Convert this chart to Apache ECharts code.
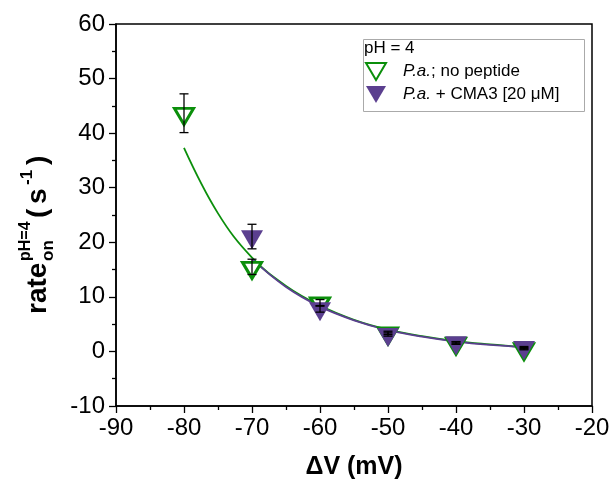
<!DOCTYPE html>
<html>
<head>
<meta charset="utf-8">
<script src="https://cdn.jsdelivr.net/npm/echarts@6.0.0/dist/echarts.min.js"></script>
<style>
  html, body { margin: 0; padding: 0; background: #fff; }
  #chart { width: 611px; height: 483px; }
</style>
</head>
<body>
<div id="chart"></div>
<script>
// measured points (mV, s^-1)
const voltNoPep = [-80, -70, -60, -50, -40, -30]
const rateNoPep = [43.6, 15.4, 8.9, 3.4, 1.5, 0.5]
const errLowNoPep = [40.1, 14.1, 8.3, 3.1, 1.3, 0.3]
const errHighNoPep = [47.2, 16.9, 9.5, 3.7, 1.7, 0.7]

const voltCma3 = [-70, -60, -50, -40, -30]
const rateCma3 = [21.0, 7.8, 3.1, 1.6, 0.7]
const errLowCma3 = [18.8, 7.2, 2.8, 1.4, 0.5]
const errHighCma3 = [23.3, 8.4, 3.4, 1.8, 0.9]

// fitted curves, every 5 mV
const fitVoltNoPep = [-80, -75, -70, -65, -60, -55, -50, -45, -40, -35, -30]
const fitNoPep = [37.3, 25.3, 17.2, 12.0, 8.4, 5.8, 4.0, 2.8, 1.9, 1.3, 0.8]
const fitVoltCma3 = [-70, -65, -60, -55, -50, -45, -40, -35, -30]
const fitCma3 = [16.9, 11.8, 8.2, 5.7, 3.9, 2.7, 1.8, 1.2, 0.8]

const xTicks = [-90, -20, 10]   // min, max, step
const yTicks = [-10, 60, 10]

const GREEN = '#0b8f0b'
const PURPLE = '#5b3f8f'
const FONT = 'Arial, "Liberation Sans", sans-serif'
const TRI = 'path://M0,0L20,0L10,17Z'

const zip = (a, b) => a.map((v, i) => [v, b[i]])
const zip3 = (a, b, c) => a.map((v, i) => [v, b[i], c[i]])

const errorBar = (params, api) => {
  const x = api.value(0)
  const lo = api.coord([x, api.value(1)])
  const hi = api.coord([x, api.value(2)])
  const w = 4.5
  const st = { stroke: '#000', lineWidth: 1.3 }
  return {
    type: 'group',
    children: [
      { type: 'line', shape: { x1: lo[0], y1: lo[1], x2: hi[0], y2: hi[1] }, style: st },
      { type: 'line', shape: { x1: lo[0] - w, y1: lo[1], x2: lo[0] + w, y2: lo[1] }, style: st },
      { type: 'line', shape: { x1: hi[0] - w, y1: hi[1], x2: hi[0] + w, y2: hi[1] }, style: st },
    ],
  }
}

const chart = echarts.init(document.getElementById('chart'))

const titleText = (text, lx, ly, size) => ({
  type: 'text',
  x: lx,
  y: ly,
  style: {
    text: text,
    font: 'bold ' + size + 'px ' + FONT,
    fill: '#000',
    textAlign: 'left',
    textVerticalAlign: 'middle',
  },
})

const option = {
  animation: false,
  backgroundColor: '#fff',
  grid: {
    left: 116,
    right: 19,
    top: 24,
    bottom: 77,
    outerBoundsMode: 'none',
    show: true,
    borderColor: '#000',
    borderWidth: 1.5,
  },
  xAxis: {
    type: 'value',
    min: xTicks[0],
    max: xTicks[1],
    interval: xTicks[2],
    name: 'ΔV (mV)',
    nameLocation: 'middle',
    nameGap: 49,
    nameTextStyle: { fontFamily: FONT, fontWeight: 'bold', fontSize: 25, color: '#000' },
    axisLine: { onZero: false, lineStyle: { color: '#000', width: 1.5 } },
    axisTick: { length: 7, lineStyle: { color: '#000', width: 1.3 } },
    minorTick: { show: true, splitNumber: 2, length: 4, lineStyle: { color: '#000', width: 1.3 } },
    splitLine: { show: false },
    axisLabel: { fontFamily: FONT, fontSize: 24, color: '#000', margin: 10 },
  },
  yAxis: {
    type: 'value',
    min: yTicks[0],
    max: yTicks[1],
    interval: yTicks[2],
    axisLine: { onZero: false, lineStyle: { color: '#000', width: 1.5 } },
    axisTick: { length: 7, lineStyle: { color: '#000', width: 1.3 } },
    minorTick: { show: true, splitNumber: 2, length: 4, lineStyle: { color: '#000', width: 1.3 } },
    splitLine: { show: false },
    axisLabel: { fontFamily: FONT, fontSize: 24, color: '#000', margin: 11 },
  },
  legend: {
    left: 365,
    top: 62,
    orient: 'vertical',
    itemWidth: 20,
    itemHeight: 17,
    itemGap: 5,
    padding: 0,
    data: [
      { name: 'no peptide', icon: TRI },
      { name: 'CMA3', icon: TRI },
    ],
    formatter: (name) => name === 'no peptide'
      ? '{i|P.a.}; no peptide'
      : '{i|P.a.} + CMA3 [20 μM]',
    textStyle: {
      fontFamily: FONT,
      fontSize: 17,
      color: '#000',
      padding: [0, 0, 0, 12],
      rich: { i: { fontFamily: FONT, fontSize: 17, fontStyle: 'italic', color: '#000' } },
    },
  },
  graphic: [
    {
      type: 'rect',
      left: 361,
      top: 37,
      shape: { width: 221, height: 72 },
      style: { fill: 'none', stroke: '#aaa', lineWidth: 1 },
    },
    {
      type: 'text',
      left: 364,
      top: 40,
      style: { text: 'pH = 4', font: '17px ' + FONT, fill: '#000' },
    },
    {
      type: 'group',
      x: 38,
      y: 314,
      rotation: Math.PI / 2,
      children: [
        titleText('rate', 0, 0, 28),
        titleText('pH=4', 53, -12, 16),
        titleText('on', 53, 10, 17),
        titleText('(', 96, 0, 28),
        titleText('s', 110, 0, 28),
        titleText('-1', 129, -11, 17),
        titleText(')', 149, 0, 28),
      ],
    },
  ],
  series: [
    {
      name: 'fit no peptide',
      type: 'line',
      data: zip(fitVoltNoPep, fitNoPep),
      smooth: 0.4,
      showSymbol: false,
      lineStyle: { color: GREEN, width: 1.8 },
      z: 2,
    },
    {
      name: 'fit CMA3',
      type: 'line',
      data: zip(fitVoltCma3, fitCma3),
      smooth: 0.4,
      showSymbol: false,
      lineStyle: { color: PURPLE, width: 1.8 },
      z: 2,
    },
    {
      name: 'no peptide',
      type: 'scatter',
      data: zip(voltNoPep, rateNoPep),
      symbol: TRI,
      symbolSize: [19, 16],
      symbolOffset: [0, 3],
      itemStyle: { color: '#fff', borderColor: GREEN, borderWidth: 3, opacity: 1 },
      z: 3,
    },
    {
      name: 'CMA3',
      type: 'scatter',
      data: zip(voltCma3, rateCma3),
      symbol: TRI,
      symbolSize: [22, 19],
      symbolOffset: [0, 3],
      itemStyle: { color: PURPLE, opacity: 1 },
      z: 4,
    },
    {
      name: 'err no peptide',
      type: 'custom',
      data: zip3(voltNoPep, errLowNoPep, errHighNoPep),
      renderItem: errorBar,
      z: 5,
    },
    {
      name: 'err CMA3',
      type: 'custom',
      data: zip3(voltCma3, errLowCma3, errHighCma3),
      renderItem: errorBar,
      z: 5,
    },
  ],
}

chart.setOption(option)
</script>
</body>
</html>
